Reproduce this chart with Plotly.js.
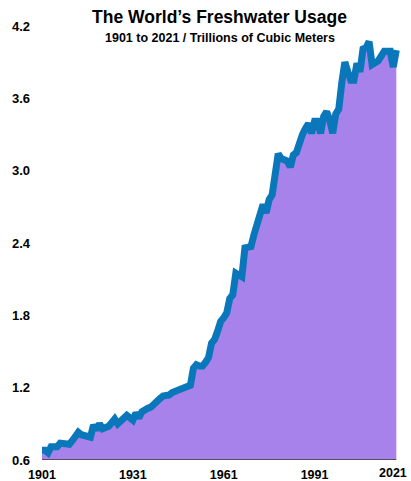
<!DOCTYPE html>
<html>
<head>
<meta charset="utf-8">
<script src="https://cdn.plot.ly/plotly-3.0.1.min.js"></script>
<style>
  html, body { margin: 0; padding: 0; background: #ffffff; }
  #chart { width: 411px; height: 481px; }
</style>
</head>
<body>
<div id="chart"></div>
<script>
// Global freshwater withdrawals, trillions of cubic metres per year
const years = [
  1901, 1902, 1903, 1904, 1905, 1906, 1907, 1908, 1909, 1910,
  1911, 1912, 1913, 1914, 1915, 1916, 1917, 1918, 1919, 1920,
  1921, 1922, 1923, 1924, 1925, 1926, 1927, 1928, 1929, 1930,
  1931, 1932, 1933, 1934, 1935, 1936, 1937, 1938, 1939, 1940,
  1941, 1942, 1943, 1944, 1945, 1946, 1947, 1948, 1949, 1950,
  1951, 1952, 1953, 1954, 1955, 1956, 1957, 1958, 1959, 1960,
  1961, 1962, 1963, 1964, 1965, 1966, 1967, 1968, 1969, 1970,
  1971, 1972, 1973, 1974, 1975, 1976, 1977, 1978, 1979, 1980,
  1981, 1982, 1983, 1984, 1985, 1986, 1987, 1988, 1989, 1990,
  1991, 1992, 1993, 1994, 1995, 1996, 1997, 1998, 1999, 2000,
  2001, 2002, 2003, 2004, 2005, 2006, 2007, 2008, 2009, 2010,
  2011, 2012, 2013, 2014, 2015, 2016, 2017, 2018
];
const usage = [
  0.68, 0.68, 0.66, 0.71, 0.71, 0.71, 0.74, 0.74, 0.74, 0.73,
  0.76, 0.79, 0.83, 0.81, 0.80, 0.80, 0.79, 0.89, 0.85, 0.90,
  0.86, 0.87, 0.88, 0.91, 0.94, 0.90, 0.93, 0.95, 0.97, 0.95,
  0.93, 0.99, 0.95, 1.00, 1.02, 1.03, 1.04, 1.07, 1.10, 1.11,
  1.13, 1.13, 1.14, 1.16, 1.17, 1.18, 1.18, 1.19, 1.20, 1.22,
  1.36, 1.39, 1.38, 1.38, 1.41, 1.45, 1.57, 1.60, 1.67, 1.75,
  1.78, 1.82, 1.94, 1.97, 2.15, 2.13, 2.12, 2.36, 2.36, 2.37,
  2.47, 2.56, 2.68, 2.72, 2.65, 2.76, 2.80, 2.98, 3.14, 3.10,
  3.09, 3.08, 3.03, 3.13, 3.15, 3.24, 3.30, 3.35, 3.39, 3.31,
  3.41, 3.41, 3.31, 3.45, 3.49, 3.42, 3.31, 3.47, 3.51, 3.73,
  3.90, 3.82, 3.75, 3.75, 3.89, 3.82, 4.01, 4.02, 4.07, 3.88,
  3.89, 3.91, 3.95, 3.99, 3.99, 3.99, 3.86, 4.00
];

// Decade labels along the bottom; the final one sits at the right edge
const xTickVals = [1901, 1931, 1961, 1991];
const xTickText = ['1901', '1931', '1961', '1991'];
const xEndTick = 2021;
const xEndText = '2021';
const yTickVals = [0.6, 1.2, 1.8, 2.4, 3.0, 3.6, 4.2];
const yTickText = ['0.6', '1.2', '1.8', '2.4', '3.0', '3.6', '4.2'];

const FONT = 'Liberation Sans, Arial, Helvetica, sans-serif';
const TICKFONT = { family: FONT, size: 12.5, weight: 'bold', color: '#000000' };

const trace = {
  type: 'scatter',
  mode: 'lines',
  x: years,
  y: usage,
  fill: 'tozeroy',
  fillcolor: '#a782eb',
  line: { color: '#0a77ba', width: 7, shape: 'linear' },
  hoverinfo: 'skip'
};

const layout = {
  width: 411,
  height: 481,
  margin: { l: 42, r: 5, t: 26, b: 21, pad: 0 },
  paper_bgcolor: '#ffffff',
  plot_bgcolor: '#ffffff',
  showlegend: false,
  font: { family: FONT, color: '#000000' },
  title: {
    text: 'The World’s Freshwater Usage',
    font: { family: FONT, size: 17.5, weight: 'bold', color: '#000000' },
    xref: 'container', x: 219.5 / 411, xanchor: 'center',
    yref: 'container', y: 1 - 17 / 481, yanchor: 'middle'
  },
  annotations: [
    {
      // subtitle line under the main title
      text: '1901 to 2021 / Trillions of Cubic Meters',
      font: { family: FONT, size: 12.5, weight: 'bold', color: '#000000' },
      xref: 'paper', yref: 'paper',
      x: (219.5 - 42) / 364, y: (460 - 38) / 434,
      xanchor: 'center', yanchor: 'middle',
      showarrow: false
    },
    {
      // last year label, right-aligned so it stays on the page
      text: xEndText,
      font: TICKFONT,
      xref: 'x', yref: 'paper',
      x: xEndTick, y: 0,
      xanchor: 'right', yanchor: 'top',
      xshift: 4, yshift: -4,
      showarrow: false
    }
  ],
  xaxis: {
    range: [1901, 2021.2],
    tickmode: 'array',
    tickvals: xTickVals,
    ticktext: xTickText,
    showgrid: false,
    zeroline: false,
    showline: false,
    ticks: '',
    ticklabelstandoff: 5,
    tickfont: TICKFONT,
    fixedrange: true
  },
  yaxis: {
    range: [0.6, 4.2],
    tickmode: 'array',
    tickvals: yTickVals,
    ticktext: yTickText,
    showgrid: false,
    zeroline: false,
    showline: false,
    ticks: '',
    ticklabelstandoff: 11,
    tickfont: { family: FONT, size: 13, weight: 'bold', color: '#000000' },
    fixedrange: true
  },
  shapes: [{
    // dark baseline under the filled area
    type: 'line',
    xref: 'x', yref: 'y',
    x0: years[0], x1: years[years.length - 1],
    y0: 0.6, y1: 0.6,
    line: { color: '#3a3a3a', width: 1.5 },
    layer: 'above'
  }]
};

Plotly.newPlot('chart', [trace], layout, { displayModeBar: false, staticPlot: true });
</script>
</body>
</html>
